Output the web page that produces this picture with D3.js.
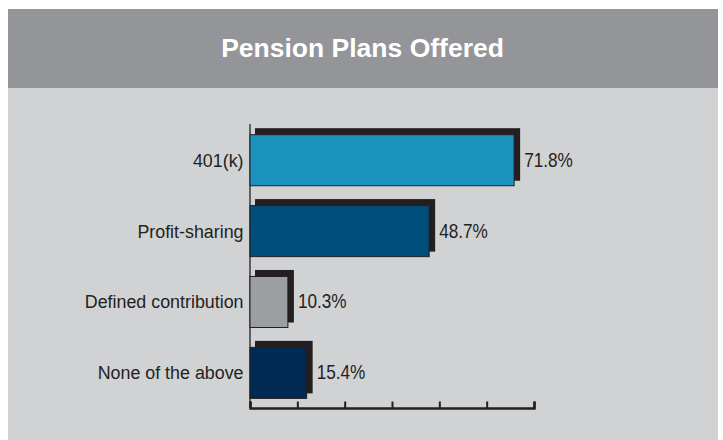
<!DOCTYPE html>
<html>
<head>
<meta charset="utf-8">
<script src="https://cdn.jsdelivr.net/npm/d3@7"></script>
<style>
  html, body { margin: 0; padding: 0; background: #ffffff; }
  svg { display: block; }
</style>
</head>
<body>
<svg id="chart" width="723" height="440"></svg>
<script>
// ---- data ----
const title = "Pension Plans Offered";
const categories = ["401(k)", "Profit-sharing", "Defined contribution", "None of the above"];
const values = [71.8, 48.7, 10.3, 15.4];
const valueLabels = ["71.8%", "48.7%", "10.3%", "15.4%"];
const barColors = ["#1b93be", "#004f7b", "#9c9ea1", "#002a54"];
const axisMax = 77.2;
const tickCount = 6;

// ---- layout ----
const W = 723, H = 440;
const svg = d3.select("#chart");
const ink = "#231f20";

svg.append("rect").attr("x", 8).attr("y", 9).attr("width", 710).attr("height", 79).attr("fill", "#939598");
svg.append("rect").attr("x", 8).attr("y", 88).attr("width", 710).attr("height", H - 88).attr("fill", "#d1d2d4");

svg.append("text")
  .attr("x", 362.5).attr("y", 56.5)
  .attr("text-anchor", "middle")
  .attr("fill", "#ffffff")
  .attr("font-family", "'Liberation Sans', Arial, sans-serif")
  .attr("font-weight", "bold")
  .attr("font-size", 26.5)
  .text(title);

const x = d3.scaleLinear().domain([0, axisMax]).range([250, 534]);
const y = d3.scaleBand().domain(categories).range([134.7, 398.4]).paddingInner(0.28).paddingOuter(0);

const data = categories.map((c, i) => ({ c, v: values[i], label: valueLabels[i], color: barColors[i] }));

// vertical axis line
svg.append("line")
  .attr("x1", x(0)).attr("x2", x(0))
  .attr("y1", 124).attr("y2", 408)
  .attr("stroke", "#3a3a3a").attr("stroke-width", 1.5);

const g = svg.append("g");

// shadows
g.selectAll("rect.shadow").data(data).enter().append("rect")
  .attr("class", "shadow")
  .attr("x", x(0) + 5)
  .attr("y", d => y(d.c) - 6.5)
  .attr("width", d => x(d.v) + 6 - (x(0) + 5))
  .attr("height", y.bandwidth() + 1.5)
  .attr("fill", ink);

// bars
g.selectAll("rect.bar").data(data).enter().append("rect")
  .attr("class", "bar")
  .attr("x", x(0))
  .attr("y", d => y(d.c))
  .attr("width", d => x(d.v) - x(0))
  .attr("height", y.bandwidth())
  .attr("fill", d => d.color)
  .attr("stroke", ink)
  .attr("stroke-width", 1);

// value labels
g.selectAll("text.val").data(data).enter().append("text")
  .attr("class", "val")
  .attr("transform", d => `translate(${x(d.v) + 10},${y(d.c) + y.bandwidth() / 2 + 6.5}) scale(0.86,1)`)
  .attr("fill", ink)
  .attr("font-family", "'Liberation Sans', Arial, sans-serif")
  .attr("font-size", 20)
  .text(d => d.label);

// category labels
g.selectAll("text.cat").data(data).enter().append("text")
  .attr("class", "cat")
  .attr("transform", d => `translate(243.5,${y(d.c) + y.bandwidth() / 2 + 6.5}) scale(0.94,1)`)
  .attr("text-anchor", "end")
  .attr("fill", ink)
  .attr("font-family", "'Liberation Sans', Arial, sans-serif")
  .attr("font-size", 19)
  .text(d => d.c);

// bottom axis (ticks pointing up)
const tickVals = d3.range(tickCount + 1).map(i => i * axisMax / tickCount);
const axis = d3.axisTop(x).tickValues(tickVals).tickFormat("").tickSize(6.5).tickSizeOuter(6.5);
const ag = svg.append("g").attr("transform", "translate(0,408)").call(axis);
ag.select(".domain").attr("stroke", ink).attr("stroke-width", 2.5).attr("fill", "none");
ag.selectAll(".tick line").attr("stroke", ink).attr("stroke-width", 2);
</script>
</body>
</html>
